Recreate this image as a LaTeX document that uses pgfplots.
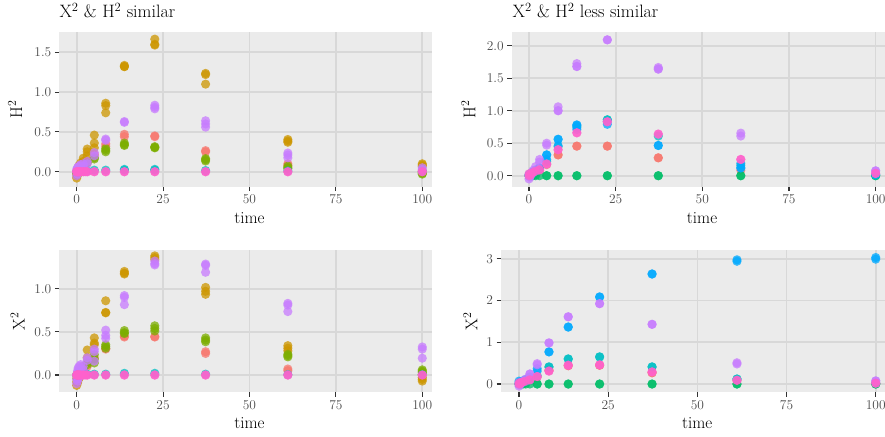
\documentclass[border=0pt]{standalone}
\usepackage{pgfplots}
\pgfplotsset{compat=1.18}

% ggplot2 hue palette (8 levels)
\definecolor{cRed}{HTML}{F8766D}
\definecolor{cGold}{HTML}{CD9600}
\definecolor{cOlive}{HTML}{7CAE00}
\definecolor{cGreen}{HTML}{00BE67}
\definecolor{cCyan}{HTML}{00BFC4}
\definecolor{cBlue}{HTML}{00A9FF}
\definecolor{cPurple}{HTML}{C77CFF}
\definecolor{cPink}{HTML}{FF61CC}
\definecolor{panelbg}{HTML}{EBEBEB}
\definecolor{gridc}{HTML}{D8D8D8}
\definecolor{tickc}{HTML}{333333}
\definecolor{labc}{HTML}{4D4D4D}

\pgfplotsset{
  gg/.style={
    scale only axis,
    axis background/.style={fill=panelbg},
    axis line style={draw=none},
    grid=major,
    major grid style={line width=1.7bp, color=gridc},
    tick align=outside,
    tick pos=left,
    major tick length=4.5bp,
    tick style={line width=1.1bp, color=tickc},
    xtick={0,25,50,75,100},
    /pgf/number format/assume math mode=true,
    ticklabel style={font=\fontsize{13.5}{13.5}\selectfont, text=labc},
    label style={font=\fontsize{17}{17}\selectfont},
    every axis title shift=0pt,
    title style={font=\fontsize{18}{18}\selectfont, anchor=base west, inner sep=0pt},
    xlabel=time,
    anchor=south west,
  },
  yfix/.style={yticklabel style={/pgf/number format/.cd, fixed, fixed zerofill, precision=1}},
  pt/.style={only marks, mark=*, mark size=4.6bp, color=#1,
    mark options={draw opacity=0, fill=#1, fill opacity=0.75}},
}

\begin{document}
\begin{tikzpicture}
\useasboundingbox (0,0) rectangle (885bp,437bp);

% ---------------- top left: H^2, similar ----------------
\begin{axis}[gg, yfix,
  at={(59.3bp,250.3bp)}, width=373bp, height=154.4bp,
  xmin=-5.03, xmax=102.9, ymin=-0.188, ymax=1.751,
  ytick={0,0.5,1,1.5},
  title={X\textsuperscript{2} \& H\textsuperscript{2} similar},
  title style={at={(axis description cs:0,1.096)}},
  ylabel={H\textsuperscript{2}},
  ylabel style={at={(axis description cs:-0.1185,0.5)}, anchor=center},
  xlabel style={at={(axis description cs:0.51,-0.2416)}, anchor=base},
]
\addplot[pt=cRed] coordinates {(0,0)(0.26,0.005)(0.43,0.01)(0.7,0.02)(1.15,0.04)(1.9,0.07)(3.05,0.13)
 (5.1,0.22)(5.1,0.2)(8.4,0.35)(8.4,0.32)(13.8,0.47)(13.8,0.44)(22.6,0.45)(22.6,0.44)
 (37.3,0.265)(37.3,0.25)(61.1,0.1)(61.1,0.08)(100,0.01)(100,0)};
\addplot[pt=cGold] coordinates {(0,-0.08)(0,-0.05)(0,-0.02)(0.26,-0.04)(0.26,0)(0.26,0.03)
 (0.43,-0.02)(0.43,0.02)(0.43,0.05)(0.7,0)(0.7,0.04)(0.7,0.08)(1.15,0.04)(1.15,0.08)(1.15,0.11)
 (1.9,0.09)(1.9,0.13)(1.9,0.17)(3.05,0.2)(3.05,0.25)(3.05,0.285)(5.1,0.46)(5.1,0.36)(5.1,0.3)
 (8.4,0.86)(8.4,0.83)(8.4,0.74)(13.8,1.335)(13.8,1.32)(13.8,1.32)(22.6,1.665)(22.6,1.6)(22.6,1.59)
 (37.3,1.235)(37.3,1.22)(37.3,1.1)(61.1,0.405)(61.1,0.385)(61.1,0.37)(100,0.1)(100,0.085)(100,0.07)};
\addplot[pt=cOlive] coordinates {(0,-0.02)(0.26,0)(0.43,0.01)(0.7,0.02)(1.15,0.04)(1.9,0.07)(3.05,0.11)
 (5.1,0.175)(5.1,0.16)(8.4,0.29)(8.4,0.27)(8.4,0.25)(13.8,0.36)(13.8,0.34)(13.8,0.33)
 (22.6,0.315)(22.6,0.305)(22.6,0.3)(37.3,0.165)(37.3,0.15)(37.3,0.135)(61.1,0.07)(61.1,0.05)(61.1,0.04)
 (100,-0.01)(100,-0.02)(100,-0.03)};
\addplot[pt=cCyan] coordinates {(0,0)(0.43,0)(0.7,0.005)(1.15,0.005)(1.9,0.01)(3.05,0.01)(5.1,0.02)
 (8.4,0.02)(13.8,0.03)(13.8,0.02)(22.6,0.03)(22.6,0.02)(37.3,0.015)(61.1,0.01)(100,0.005)};
\addplot[pt=cPurple] coordinates {(0,-0.05)(0,0)(0,0.03)(0.26,-0.03)(0.26,0.02)(0.26,0.05)
 (0.43,0)(0.43,0.04)(0.43,0.06)(0.7,0.02)(0.7,0.05)(0.7,0.07)(1.15,0.04)(1.15,0.07)(1.15,0.09)
 (1.9,0.07)(1.9,0.1)(3.05,0.13)(3.05,0.1)(5.1,0.24)(5.1,0.2)(8.4,0.41)(8.4,0.395)
 (13.8,0.63)(13.8,0.62)(22.6,0.835)(22.6,0.81)(22.6,0.79)(37.3,0.64)(37.3,0.6)(37.3,0.56)
 (61.1,0.235)(61.1,0.21)(61.1,0.175)(100,0.05)(100,0.03)};
\addplot[pt=cPink] coordinates {(0,0)(0,0)(0.16,0)(0.26,0)(0.43,0)(0.43,0)(0.7,0)(0.7,0)(1.15,0)(1.15,0)
 (1.9,0)(1.9,0)(2.5,0)(3.05,0)(3.05,0)(5.1,0)(5.1,0)(8.4,0)(8.4,0)(13.8,0)(13.8,0)(22.6,0)(22.6,0)
 (37.3,0)(37.3,0)(61.1,0)(61.1,0)(100,0)(100,0)};
\end{axis}

% ---------------- top right: H^2, less similar ----------------
\begin{axis}[gg, yfix,
  at={(511.7bp,250.3bp)}, width=373.3bp, height=154.4bp,
  xmin=-4.99, xmax=102.7, ymin=-0.169, ymax=2.206,
  ytick={0,0.5,1,1.5,2},
  title={X\textsuperscript{2} \& H\textsuperscript{2} less similar},
  title style={at={(axis description cs:0.002,1.096)}},
  ylabel={H\textsuperscript{2}},
  ylabel style={at={(axis description cs:-0.116,0.5)}, anchor=center},
  xlabel style={at={(axis description cs:0.51,-0.2416)}, anchor=base},
]
\addplot[pt=cRed] coordinates {(0,0)(0.43,0.005)(0.7,0.01)(1.15,0.02)(1.9,0.04)(3.05,0.08)(5.1,0.17)
 (8.4,0.32)(8.4,0.32)(13.8,0.455)(13.8,0.455)(22.6,0.455)(22.6,0.455)(37.3,0.275)(37.3,0.275)
 (61.1,0.085)(100,0.01)};
\addplot[pt=cGreen] coordinates {(0,0)(0.43,0)(0.7,0)(1.15,0)(1.9,0)(3.05,0)(5.1,0)(5.1,0)
 (8.4,0)(8.4,0)(13.8,0)(13.8,0)(22.6,0)(22.6,0)(37.3,0)(37.3,0)(61.1,0)(61.1,0)(100,0)(100,0)};
\addplot[pt=cCyan] coordinates {(0,0)(0.43,0.01)(0.7,0.02)(1.15,0.04)(1.9,0.07)(3.05,0.12)(5.1,0.22)
 (8.4,0.45)(13.8,0.76)(22.6,0.86)(22.6,0.86)(37.3,0.61)(61.1,0.16)(100,0.01)(100,0.01)};
\addplot[pt=cBlue] coordinates {(0,0.01)(0.43,0.03)(0.7,0.04)(1.15,0.06)(1.9,0.09)(3.05,0.12)
 (5.1,0.32)(5.1,0.32)(5.1,0.25)(8.4,0.56)(8.4,0.56)(8.4,0.46)(13.8,0.78)(13.8,0.78)(13.8,0.74)(13.8,0.71)
 (22.6,0.83)(22.6,0.79)(37.3,0.465)(37.3,0.465)(61.1,0.19)(61.1,0.12)(61.1,0.12)(100,0.02)};
\addplot[pt=cPurple] coordinates {(0,-0.05)(0,0)(0.26,-0.02)(0.43,0.02)(0.7,0.04)(1.15,0.08)(1.9,0.14)
 (3.05,0.25)(3.05,0.21)(5.1,0.5)(5.1,0.47)(8.4,1.06)(8.4,1.0)(8.4,1.0)(13.8,1.725)(13.8,1.68)(13.8,1.68)
 (22.6,2.09)(22.6,2.09)(37.3,1.665)(37.3,1.64)(37.3,1.64)(61.1,0.655)(61.1,0.61)(100,0.075)(100,0.075)};
\addplot[pt=cPink] coordinates {(0,0)(0,0.03)(0.26,0.01)(0.43,0.02)(0.7,0.03)(1.15,0.05)(1.9,0.07)
 (3.05,0.09)(3.05,0.09)(5.1,0.18)(5.1,0.18)(8.4,0.4)(8.4,0.4)(13.8,0.66)(13.8,0.66)(22.6,0.83)(22.6,0.83)
 (37.3,0.64)(37.3,0.64)(61.1,0.25)(61.1,0.25)(100,0.035)(100,0.035)};
\end{axis}

% ---------------- bottom left: X^2, similar ----------------
\begin{axis}[gg, yfix,
  at={(59.3bp,44.7bp)}, width=373bp, height=142.3bp,
  xmin=-5.03, xmax=102.9, ymin=-0.2, ymax=1.448,
  ytick={0,0.5,1},
  ylabel={X\textsuperscript{2}},
  ylabel style={at={(axis description cs:-0.112,0.5)}, anchor=center},
  xlabel style={at={(axis description cs:0.51,-0.251)}, anchor=base},
]
\addplot[pt=cRed] coordinates {(0,0)(0.43,0.005)(0.7,0.01)(1.15,0.02)(1.9,0.05)(3.05,0.1)
 (5.1,0.2)(8.4,0.31)(8.4,0.3)(13.8,0.45)(13.8,0.44)(22.6,0.445)(22.6,0.44)
 (37.3,0.27)(37.3,0.25)(61.1,0.07)(61.1,0.05)(100,0.01)(100,0)};
\addplot[pt=cGold] coordinates {(0,-0.12)(0,-0.08)(0,-0.04)(0.26,-0.09)(0.26,-0.03)(0.43,-0.06)(0.43,0)
 (0.7,-0.03)(0.7,0.03)(1.15,0)(1.15,0.06)(1.9,0.05)(1.9,0.1)(3.05,0.2)(3.05,0.29)
 (5.1,0.43)(5.1,0.37)(5.1,0.35)(8.4,0.86)(8.4,0.725)(8.4,0.72)(13.8,1.2)(13.8,1.18)(13.8,1.17)
 (22.6,1.38)(22.6,1.36)(22.6,1.34)(37.3,1.015)(37.3,0.97)(37.3,0.935)(61.1,0.34)(61.1,0.31)(61.1,0.28)
 (100,-0.03)(100,-0.05)(100,-0.07)};
\addplot[pt=cOlive] coordinates {(0,0)(0.26,0)(0.43,0.01)(0.7,0.02)(1.15,0.04)(1.9,0.07)(3.05,0.12)(3.05,0.14)
 (5.1,0.235)(5.1,0.185)(5.1,0.14)(8.4,0.35)(8.4,0.33)(8.4,0.31)(13.8,0.515)(13.8,0.49)(13.8,0.48)
 (22.6,0.57)(22.6,0.54)(22.6,0.51)(37.3,0.43)(37.3,0.405)(37.3,0.385)(61.1,0.24)(61.1,0.225)(61.1,0.21)
 (100,0.06)(100,0.045)(100,0.03)};
\addplot[pt=cCyan] coordinates {(0,0)(0.43,0)(0.7,0.005)(1.15,0.005)(1.9,0.01)(3.05,0.01)(5.1,0.01)
 (8.4,0.01)(13.8,0.02)(22.6,0.02)(37.3,0.01)(61.1,0.005)(100,0.005)};
\addplot[pt=cPurple] coordinates {(0,-0.1)(0,-0.05)(0,0)(0.26,-0.07)(0.26,0)(0.26,0.05)
 (0.43,-0.04)(0.43,0.03)(0.43,0.08)(0.7,-0.02)(0.7,0.05)(0.7,0.1)(1.15,0.02)(1.15,0.08)(1.15,0.12)
 (1.9,0.06)(1.9,0.1)(3.05,0.2)(3.05,0.17)(5.1,0.3)(5.1,0.27)(5.1,0.16)(8.4,0.52)(8.4,0.46)(8.4,0.425)
 (13.8,0.92)(13.8,0.9)(13.8,0.815)(22.6,1.32)(22.6,1.29)(22.6,1.275)(37.3,1.285)(37.3,1.27)(37.3,1.19)
 (61.1,0.83)(61.1,0.81)(61.1,0.735)(100,0.325)(100,0.3)(100,0.195)};
\addplot[pt=cPink] coordinates {(0,0)(0,0)(0.16,0)(0.26,0)(0.43,0)(0.43,0)(0.7,0)(0.7,0)(1.15,0)(1.15,0)
 (1.9,0)(1.9,0)(2.5,0)(3.05,0)(3.05,0)(5.1,0)(5.1,0)(8.4,0)(8.4,0)(13.8,0)(13.8,0)(22.6,0)(22.6,0)
 (37.3,0)(37.3,0)(61.1,0)(61.1,0)(100,0)(100,0)};
\end{axis}

% ---------------- bottom right: X^2, less similar ----------------
\begin{axis}[gg,
  at={(501bp,44.7bp)}, width=384bp, height=142.3bp,
  xmin=-5.05, xmax=102.6, ymin=-0.198, ymax=3.21,
  ytick={0,1,2,3},
  ylabel={X\textsuperscript{2}},
  ylabel style={at={(axis description cs:-0.08,0.5)}, anchor=center},
  xlabel style={at={(axis description cs:0.511,-0.251)}, anchor=base},
]
\addplot[pt=cRed] coordinates {(0,0)(0.43,0.005)(0.7,0.01)(1.15,0.02)(1.9,0.04)(3.05,0.09)(5.1,0.17)
 (8.4,0.33)(8.4,0.33)(13.8,0.44)(13.8,0.44)(22.6,0.45)(22.6,0.45)(37.3,0.27)(37.3,0.27)(61.1,0.08)(100,0.01)};
\addplot[pt=cGreen] coordinates {(0,0)(0.43,0)(0.7,0)(1.15,0)(1.9,0)(3.05,0)(5.1,0)(5.1,0)
 (8.4,0)(8.4,0)(13.8,0)(13.8,0)(22.6,0)(22.6,0)(37.3,0)(37.3,0)(61.1,0)(61.1,0)(100,0)(100,0)};
\addplot[pt=cCyan] coordinates {(0,0)(0.43,0.01)(0.7,0.02)(1.15,0.04)(1.9,0.06)(3.05,0.1)(5.1,0.2)
 (8.4,0.41)(8.4,0.41)(13.8,0.6)(13.8,0.6)(22.6,0.65)(22.6,0.65)(37.3,0.41)(37.3,0.41)(61.1,0.12)(61.1,0.12)(100,0.02)};
\addplot[pt=cBlue] coordinates {(0,0.02)(0,0.07)(0.43,0.05)(0.7,0.06)(1.15,0.08)(1.9,0.11)(3.05,0.17)
 (5.1,0.37)(5.1,0.31)(8.4,0.77)(8.4,0.77)(13.8,1.365)(13.8,1.365)(22.6,2.085)(22.6,2.085)
 (37.3,2.635)(37.3,2.635)(61.1,2.975)(61.1,2.94)(100,3.03)(100,2.99)};
\addplot[pt=cPurple] coordinates {(0,-0.05)(0,0)(0.26,-0.02)(0.43,0.02)(0.7,0.04)(1.15,0.07)(1.9,0.12)
 (3.05,0.24)(3.05,0.24)(5.1,0.49)(5.1,0.46)(8.4,0.985)(8.4,0.985)(13.8,1.61)(13.8,1.61)(22.6,1.925)(22.6,1.925)
 (37.3,1.43)(37.3,1.43)(61.1,0.51)(61.1,0.48)(100,0.075)(100,0.075)};
\addplot[pt=cPink] coordinates {(0,0)(0,0.03)(0.26,0.01)(0.43,0.02)(0.7,0.03)(1.15,0.05)(1.9,0.07)
 (3.05,0.1)(3.05,0.1)(5.1,0.18)(5.1,0.18)(8.4,0.31)(8.4,0.31)(13.8,0.45)(13.8,0.45)(22.6,0.46)(22.6,0.46)
 (37.3,0.29)(37.3,0.29)(61.1,0.09)(61.1,0.09)(100,0.02)(100,0.02)};
\end{axis}
\end{tikzpicture}
\end{document}
